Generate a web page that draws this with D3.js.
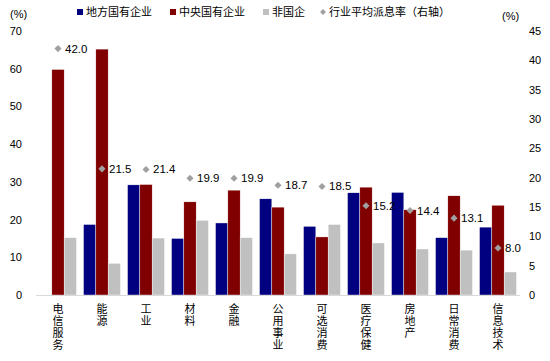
<!DOCTYPE html>
<html>
<head>
<meta charset="utf-8">
<script src="https://cdn.jsdelivr.net/npm/d3@7/dist/d3.min.js"></script>
<style>
  body { margin: 0; background: #fff; }
  text { font-family: "Liberation Sans", Arial, "Noto Sans CJK SC", sans-serif; fill: #000; }
  .cjk { font-family: "Noto Sans CJK SC", "Liberation Sans", sans-serif; }
</style>
</head>
<body>
<svg id="chart" width="550" height="361"></svg>
<script>
// categories and series
const categories = ["电信服务", "能源", "工业", "材料", "金融", "公用事业", "可选消费", "医疗保健", "房地产", "日常消费", "信息技术"];
const localSOE = [0, 18.7, 29.2, 15.0, 19.1, 25.5, 18.2, 27.1, 27.2, 15.2, 18.0];
const centralSOE = [59.8, 65.2, 29.3, 24.7, 27.8, 23.3, 15.4, 28.6, 22.6, 26.3, 23.8];
const nonSOE = [15.2, 8.4, 15.1, 19.8, 15.2, 10.9, 18.7, 13.8, 12.2, 11.9, 6.1];
const payoutRate = [42.0, 21.5, 21.4, 19.9, 19.9, 18.7, 18.5, 15.2, 14.4, 13.1, 8.0];
const leftTicks = [0, 10, 20, 30, 40, 50, 60, 70];
const rightTicks = [0, 5, 10, 15, 20, 25, 30, 35, 40, 45];
const seriesNames = ["地方国有企业", "中央国有企业", "非国企"];
const colors = ["#000080", "#800000", "#c0c0c0"];
const diamondColor = "#a0a0a0";

const svg = d3.select("#chart");
const plotLeft = 36, plotRight = 520, plotTop = 31, plotBottom = 295;

const x = d3.scaleBand().domain(categories).range([plotLeft, plotRight]).paddingInner(0.16).paddingOuter(0.08);
const xs = d3.scaleBand().domain(d3.range(3)).range([0, x.bandwidth()]);
const yL = d3.scaleLinear().domain([0, 70]).range([plotBottom, plotTop]);
const yR = d3.scaleLinear().domain([0, 45]).range([plotBottom, plotTop]);

// bars
const allSeries = [localSOE, centralSOE, nonSOE];
allSeries.forEach((vals, si) => {
    svg.append("g").selectAll("rect").data(vals).join("rect")
        .attr("x", (d, i) => x(categories[i]) + xs(si))
        .attr("y", d => yL(d))
        .attr("width", xs.bandwidth())
        .attr("height", d => plotBottom - yL(d))
        .attr("fill", colors[si])
        .attr("stroke", "#fff").attr("stroke-width", 0.4);
});

// axis baseline
svg.append("line").attr("x1", plotLeft).attr("x2", plotRight).attr("y1", plotBottom + 0.5).attr("y2", plotBottom + 0.5)
    .attr("stroke", "#d9d9d9").attr("stroke-width", 1);

// left axis
const gL = svg.append("g").attr("transform", `translate(${plotLeft - 14},0)`)
    .call(d3.axisLeft(yL).tickValues(leftTicks).tickSize(0).tickPadding(0));
gL.select(".domain").remove();
gL.selectAll("text").attr("font-size", 11).attr("font-family", "Liberation Sans, Arial, sans-serif").attr("fill", "#000");

// right axis
const gR = svg.append("g").attr("transform", `translate(${plotRight + 9},0)`)
    .call(d3.axisRight(yR).tickValues(rightTicks).tickSize(0).tickPadding(0));
gR.select(".domain").remove();
gR.selectAll("text").attr("font-size", 11).attr("font-family", "Liberation Sans, Arial, sans-serif").attr("fill", "#000");

// unit labels
svg.append("text").attr("x", 10).attr("y", 18).attr("font-size", 11).text("(%)");
svg.append("text").attr("x", 502).attr("y", 20).attr("font-size", 11).text("(%)");

// diamonds + labels
const diamond = d3.symbol().type(d3.symbolDiamond2).size(32);
svg.append("g").selectAll("path").data(payoutRate).join("path")
    .attr("d", diamond)
    .attr("transform", (d, i) => `translate(${x(categories[i]) + x.bandwidth() / 2},${yR(d)})`)
    .attr("fill", diamondColor);
svg.append("g").selectAll("text").data(payoutRate).join("text")
    .attr("x", (d, i) => x(categories[i]) + x.bandwidth() / 2 + 7)
    .attr("y", d => yR(d) + 4)
    .attr("font-size", 11.5)
    .text(d => d.toFixed(1));

// x labels (vertical)
svg.append("g").selectAll("text").data(categories).join("text")
    .attr("class", "cjk")
    .attr("x", d => x(d) + x.bandwidth() / 2)
    .attr("y", 303)
    .attr("font-size", 11)
    .attr("writing-mode", "tb")
    .style("letter-spacing", "1px")
    .text(d => d);

// legend
const legendItems = [
    { name: seriesNames[0], color: colors[0], x: 77, type: "square" },
    { name: seriesNames[1], color: colors[1], x: 170, type: "square" },
    { name: seriesNames[2], color: colors[2], x: 263, type: "square" },
    { name: "行业平均派息率（右轴）", color: diamondColor, x: 320, type: "diamond" }
];
const lg = svg.append("g");
legendItems.forEach(it => {
    if (it.type === "square") {
        lg.append("rect").attr("x", it.x).attr("y", 9).attr("width", 6).attr("height", 6).attr("fill", it.color);
    } else {
        lg.append("path").attr("d", d3.symbol().type(d3.symbolDiamond2).size(22))
            .attr("transform", `translate(${it.x + 3},12)`).attr("fill", it.color);
    }
    lg.append("text").attr("class", "cjk").attr("x", it.x + 9).attr("y", 16).attr("font-size", 11).text(it.name);
});
</script>
</body>
</html>
